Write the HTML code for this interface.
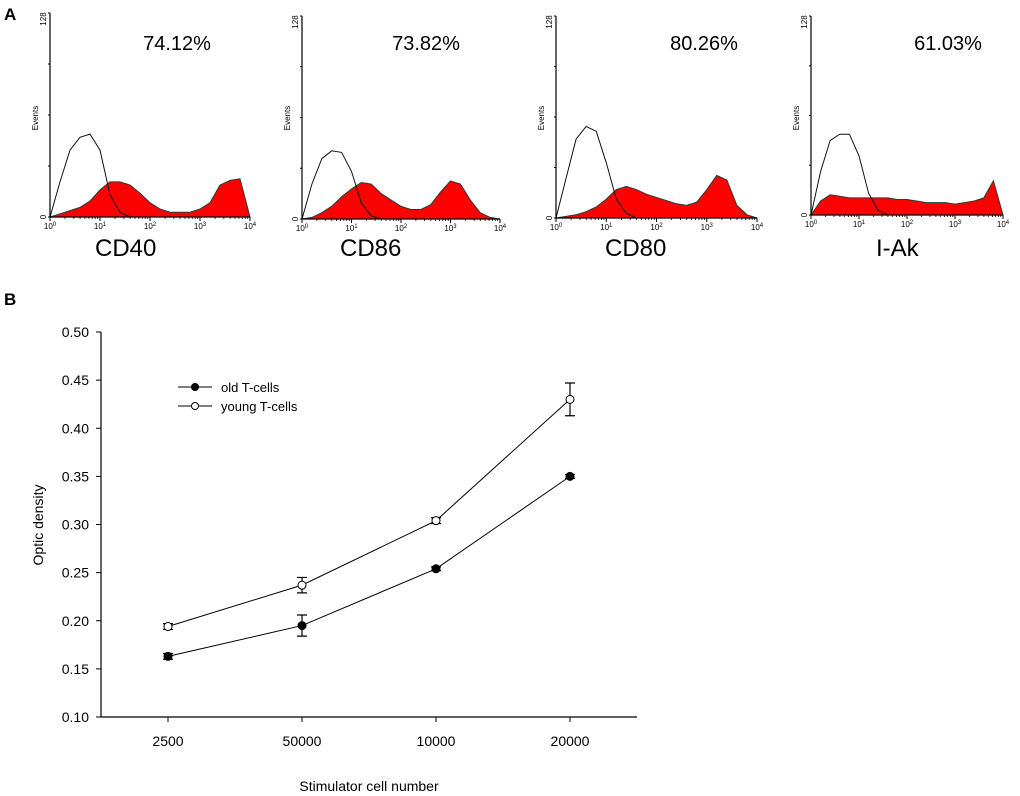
<!DOCTYPE html>
<html><head><meta charset="utf-8"><style>
html,body{margin:0;padding:0;background:#fff;}
svg{display:block;font-family:"Liberation Sans",Arial,sans-serif;}
</style></head><body>
<svg id="fig" width="1020" height="796" viewBox="0 0 1020 796" xmlns="http://www.w3.org/2000/svg">
<text x="4" y="20" font-size="17" font-weight="bold">A</text>
<text x="4" y="305" font-size="17" font-weight="bold">B</text>
<g id="panelA"></g>
<g id="panelB"></g>
</svg>
<script>
// ---------- Panel A data (counts on 0-128 scale at log10 steps of 0.2 from 0 to 4) ----------
const histMarkers = ["CD40", "CD86", "CD80", "I-Ak"];
const histPercents = ["74.12%", "73.82%", "80.26%", "61.03%"];
const redCD40 = [0,2,4,6,10,17,22,22,20,15,9,5,3,3,3,5,9,20,23,24,0];
const openCD40 = [0,22,42,50,52,42,14,3,0,0,0,0,0,0,0,0,0,0,0,0,0];
const redCD86 = [0,1,4,8,14,19,23,22,16,12,8,6,6,9,17,24,22,12,4,1,0];
const openCD86 = [0,22,38,43,42,30,10,2,0,0,0,0,0,0,0,0,0,0,0,0,0];
const redCD80 = [0,1,2,4,7,12,18,20,18,15,13,11,9,8,10,18,27,24,8,2,0];
const openCD80 = [0,25,50,58,55,35,12,3,0,0,0,0,0,0,0,0,0,0,0,0,0];
const redIAk = [0,9,13,12,11,11,11,11,11,10,10,9,8,8,8,7,8,9,11,22,0];
const openIAk = [0,28,48,52,52,38,14,3,0,0,0,0,0,0,0,0,0,0,0,0,0];
const redSeries = [redCD40, redCD86, redCD80, redIAk];
const openSeries = [openCD40, openCD86, openCD80, openIAk];
const decadeLabels = ["0","1","2","3","4"];

// ---------- Panel B data ----------
const xCategories = ["2500", "50000", "10000", "20000"];
const oldMeans = [0.163, 0.195, 0.254, 0.350];
const oldErr = [0.003, 0.011, 0.002, 0.002];
const youngMeans = [0.194, 0.237, 0.304, 0.430];
const youngErr = [0.003, 0.008, 0.003, 0.017];
const yTicks = [0.10, 0.15, 0.20, 0.25, 0.30, 0.35, 0.40, 0.45, 0.50];

const NS = "http://www.w3.org/2000/svg";
function mk(parent, tag, attrs, text) {
  const e = document.createElementNS(NS, tag);
  for (const k in attrs) e.setAttribute(k, attrs[k]);
  if (text !== undefined) e.textContent = text;
  parent.appendChild(e);
  return e;
}

// ---------- Panel A ----------
const gA = document.getElementById("panelA");
const panels = [
  {x0: 50, x1: 250, top: 13, base: 217, pc: 127, lab: 45},
  {x0: 302, x1: 500, top: 16, base: 219, pc: 124, lab: 38},
  {x0: 556, x1: 757, top: 16, base: 218, pc: 148, lab: 49},
  {x0: 811, x1: 1003, top: 16, base: 215, pc: 137, lab: 65}
];
panels.forEach((p, i) => {
  const g = mk(gA, "g", {});
  
  
  const xs = v => p.x0 + (v / 4) * (p.x1 - p.x0);
  const ys = c => p.base - (c / 128) * (p.base - p.top);
  const red = redSeries[i];
  let d = "M" + xs(0) + "," + ys(0);
  red.forEach((c, k) => { d += " L" + xs(k * 0.2).toFixed(1) + "," + ys(c).toFixed(1); });
  d += " Z";
  const rp = mk(g, "path", {d: d, fill: "#ff0000", stroke: "#2a3a3a", "stroke-width": "1"});
  
  
  const op = openSeries[i];
  let d2 = "";
  op.forEach((c, k) => { d2 += (k ? " L" : "M") + xs(k * 0.2).toFixed(1) + "," + ys(c).toFixed(1); });
  const cp = mk(g, "path", {d: d2, fill: "none", stroke: "#111", "stroke-width": "1"});
  
  
  const ya = mk(g, "line", {x1: p.x0, y1: p.top, x2: p.x0, y2: p.base, stroke: "#000", "stroke-width": "1.2"});
  
  
  const xa = mk(g, "line", {x1: p.x0, y1: p.base, x2: p.x1, y2: p.base, stroke: "#000", "stroke-width": "1.2"});
  
  
  for (let t = 0; t <= 4; t++) {
    const yy = p.base - t * (p.base - p.top) / 4;
    mk(g, "line", {x1: p.x0 - 2, y1: yy, x2: p.x0, y2: yy, stroke: "#000", "stroke-width": "1"});
  }
  for (let dec = 0; dec < 4; dec++) {
    for (let m = 2; m <= 9; m++) {
      const xx = xs(dec + Math.log10(m));
      mk(g, "line", {x1: xx, y1: p.base, x2: xx, y2: p.base + 2, stroke: "#000", "stroke-width": "0.8"});
    }
  }
  decadeLabels.forEach((lab, k) => {
    const xx = xs(k);
    mk(g, "line", {x1: xx, y1: p.base, x2: xx, y2: p.base + 4, stroke: "#000", "stroke-width": "1"});
    const t = mk(g, "text", {x: xx, y: p.base + 12, "font-size": "8", "text-anchor": "middle"});
    
    
    mk(t, "tspan", {}, "10");
    mk(t, "tspan", {dy: "-3", "font-size": "6"}, lab);
  });
  const zero = mk(g, "text", {x: p.x0 - 4, y: p.base, "font-size": "8", "text-anchor": "middle", transform: "rotate(-90 " + (p.x0 - 4) + " " + p.base + ")"}, "0");
  
  
  const top = mk(g, "text", {x: p.x0 - 4, y: p.top + 6, "font-size": "8", "text-anchor": "middle", transform: "rotate(-90 " + (p.x0 - 4) + " " + (p.top + 6) + ")"}, "128");
  
  
  const ev = mk(g, "text", {x: p.x0 - 12, y: 118, "font-size": "8", "text-anchor": "middle", transform: "rotate(-90 " + (p.x0 - 12) + " 118)"}, "Events");
  
  
  const pc = mk(g, "text", {x: p.x0 + p.pc, y: 50, "font-size": "20", "text-anchor": "middle"}, histPercents[i]);
  
  
  const mkx = mk(g, "text", {x: p.x0 + p.lab, y: 256, "font-size": "24"}, histMarkers[i]);
  
  
});

// ---------- Panel B ----------
const gB = document.getElementById("panelB");
const L = 101, R = 637, T = 332, B = 717, yMin = 0.10, yMax = 0.50;
const yS = v => B - (v - yMin) / (yMax - yMin) * (B - T);
const bw = (R - L) / xCategories.length;
const xS = i => L + bw * (i + 0.5);

const yax = mk(gB, "line", {x1: L, y1: T, x2: L, y2: B, stroke: "#000", "stroke-width": "1.2"});


const xax = mk(gB, "line", {x1: L, y1: B, x2: R, y2: B, stroke: "#000", "stroke-width": "1.2"});


yTicks.forEach(v => {
  mk(gB, "line", {x1: L - 5, y1: yS(v), x2: L, y2: yS(v), stroke: "#000", "stroke-width": "1"});
  const t = mk(gB, "text", {x: L - 12, y: yS(v) + 5, "font-size": "14", "text-anchor": "end"}, v.toFixed(2));
  
  
});
xCategories.forEach((c, i) => {
  mk(gB, "line", {x1: xS(i), y1: B, x2: xS(i), y2: B + 5, stroke: "#000", "stroke-width": "1"});
  const t = mk(gB, "text", {x: xS(i), y: B + 29, "font-size": "14", "text-anchor": "middle"}, c);
  
  
});
const xt = mk(gB, "text", {x: 369, y: 791, "font-size": "14", "text-anchor": "middle"}, "Stimulator cell number");


const yt = mk(gB, "text", {x: 43, y: 525, "font-size": "14", "text-anchor": "middle", transform: "rotate(-90 43 525)"}, "Optic density");



function series(means, errs, filled, name) {
  const g = mk(gB, "g", {});
  
  
  mk(g, "polyline", {points: means.map((m, i) => xS(i) + "," + yS(m)).join(" "), fill: "none", stroke: "#000", "stroke-width": "1"});
  means.forEach((m, i) => {
    const x = xS(i), y1 = yS(m + errs[i]), y2 = yS(m - errs[i]);
    const eb = mk(g, "path", {d: `M${x},${y1} L${x},${y2} M${x-5},${y1} L${x+5},${y1} M${x-5},${y2} L${x+5},${y2}`, stroke: "#000", "stroke-width": "1.2", fill: "none"});
    
    
    const pt = mk(g, "circle", {cx: x, cy: yS(m), r: 4, fill: filled ? "#000" : "#fff", stroke: "#000", "stroke-width": "1"});
    
    
  });
}
series(oldMeans, oldErr, true, "series-old-t-cells");
series(youngMeans, youngErr, false, "series-young-t-cells");

const lg = mk(gB, "g", {});


[["old T-cells", true, 387], ["young T-cells", false, 406]].forEach(([lab, f, y]) => {
  const e = mk(lg, "g", {});
  
  
  mk(e, "line", {x1: 178, y1: y, x2: 212, y2: y, stroke: "#000", "stroke-width": "1"});
  mk(e, "circle", {cx: 195, cy: y, r: 3.5, fill: f ? "#000" : "#fff", stroke: "#000", "stroke-width": "1"});
  mk(e, "text", {x: 221, y: y + 5, "font-size": "13"}, lab);
});
</script>
</body></html>
